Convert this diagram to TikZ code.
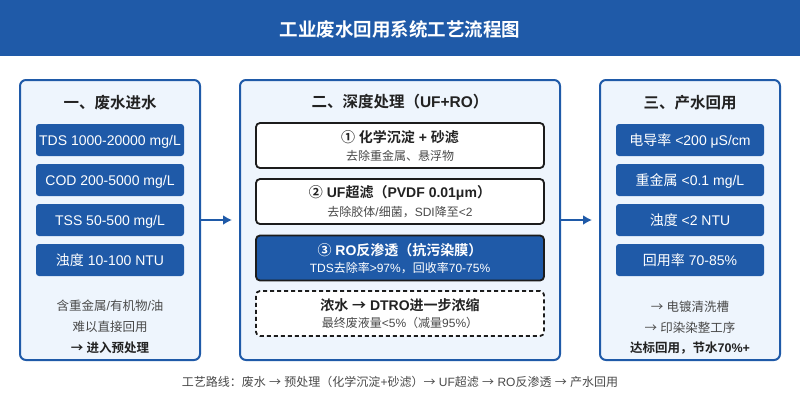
\documentclass[tikz,border=0pt]{standalone}
\usepackage{fontspec}
\setmainfont{Liberation Sans}
\newfontfamily\cjkfam{Noto Sans CJK SC}[BoldFont={Noto Sans CJK SC Bold}]
\XeTeXinterchartokenstate=1
\newXeTeXintercharclass\cjkclass
\makeatletter
\newcount\cjk@cnt
\def\cjk@range#1#2{\cjk@cnt=#1\relax
  \loop\XeTeXcharclass\cjk@cnt=\cjkclass\advance\cjk@cnt by 1\relax
  \ifnum\cjk@cnt<#2\relax\repeat}
\cjk@range{"4E00}{"A000}
\cjk@range{"3000}{"3040}
\cjk@range{"FF00}{"FF60}
\cjk@range{"2460}{"2500}
\cjk@range{"2190}{"2194}
\makeatother
\XeTeXinterchartoks 0 \cjkclass = {\begingroup\cjkfam}
\XeTeXinterchartoks 4095 \cjkclass = {\begingroup\cjkfam}
\XeTeXinterchartoks \cjkclass 0 = {\endgroup}
\XeTeXinterchartoks \cjkclass 4095 = {\endgroup}
\definecolor{mainblue}{HTML}{1F5AA8}
\definecolor{panelfill}{HTML}{EEF5FD}
\definecolor{darktxt}{HTML}{222222}
\definecolor{subtxt}{HTML}{4A4A4A}
\definecolor{boxline}{HTML}{1C1C1C}
\usetikzlibrary{arrows.meta}
\tikzset{
  panel/.style={draw=mainblue, fill=panelfill, line width=2pt, rounded corners=6pt},
  bluebox/.style={fill=mainblue, rounded corners=3pt, minimum width=148pt, minimum height=32pt, text=white, font=\fontsize{14}{16}\selectfont, inner sep=0pt, text height=11pt, text depth=1pt},
  stepbox/.style={draw=boxline, fill=white, line width=1.8pt, rounded corners=4pt, minimum width=288pt, minimum height=45pt, inner sep=0pt},
  headtxt/.style={text=darktxt, font=\bfseries\fontsize{15.5}{18}\selectfont},
  steptitle/.style={text=darktxt, font=\bfseries\fontsize{14}{16}\selectfont},
  stepsub/.style={text=subtxt, font=\fontsize{12}{14}\selectfont},
  notetxt/.style={text=subtxt, font=\fontsize{12.5}{14}\selectfont},
  flow/.style={draw=mainblue, line width=2.2pt, -{Latex[length=9pt,width=10pt]}},
}
\begin{document}
\begin{tikzpicture}[x=1pt,y=-1pt]
\useasboundingbox (0,0) rectangle (800,400);
\fill[white] (0,0) rectangle (800,400);
% title bar
\fill[mainblue] (0,0) rectangle (800,56);
\node[text=white, font=\bfseries\fontsize{18.5}{20}\selectfont] (title) at (400,29) {工业废水回用系统工艺流程图};
% panels
\node[panel, minimum width=180pt, minimum height=280pt] (p1) at (110,220) {};
\node[panel, minimum width=320pt, minimum height=280pt] (p2) at (400,220) {};
\node[panel, minimum width=180pt, minimum height=280pt] (p3) at (690,220) {};
% left panel
\node[headtxt] (h1) at (110,103) {一、废水进水};
\node[bluebox] (a1) at (110,140) {TDS 1000-20000 mg/L};
\node[bluebox] (a2) at (110,180) {COD 200-5000 mg/L};
\node[bluebox] (a3) at (110,220) {TSS 50-500 mg/L};
\node[bluebox] (a4) at (110,260) {浊度 10-100 NTU};
\node[notetxt] (n1) at (110,306) {含重金属/有机物/油};
\node[notetxt] (n2) at (110,327) {难以直接回用};
\node[text=darktxt, font=\bfseries\fontsize{12.5}{14}\selectfont] (n3) at (110,348) {→ 进入预处理};
% middle panel
\node[headtxt] (h2) at (400,102) {二、深度处理（UF+RO）};
\node[stepbox] (s1) at (400,145.5) {};
\node[steptitle] (s1t) at (400,137) {① 化学沉淀 + 砂滤};
\node[stepsub] (s1s) at (400,156) {去除重金属、悬浮物};
\node[stepbox] (s2) at (400,201.5) {};
\node[steptitle] (s2t) at (400,193) {② UF超滤（PVDF 0.01μm）};
\node[stepsub] (s2s) at (400,212) {去除胶体/细菌，SDI降至<2};
\node[stepbox, fill=mainblue] (s3) at (400,258) {};
\node[steptitle, text=white] (s3t) at (400,250) {③ RO反渗透（抗污染膜）};
\node[stepsub, text=white] (s3s) at (400,268) {TDS去除率>97\%，回收率70-75\%};
\node[stepbox, dashed, dash pattern=on 4pt off 3pt] (s4) at (400,313.5) {};
\node[steptitle] (s4t) at (400,305) {浓水 → DTRO进一步浓缩};
\node[stepsub] (s4s) at (400,323) {最终废液量<5\%（减量95\%）};
% right panel
\node[headtxt] (h3) at (690,103) {三、产水回用};
\node[bluebox] (b1) at (690,140) {电导率 <200 μS/cm};
\node[bluebox] (b2) at (690,180) {重金属 <0.1 mg/L};
\node[bluebox] (b3) at (690,220) {浊度 <2 NTU};
\node[bluebox] (b4) at (690,260) {回用率 70-85\%};
\node[notetxt] (m1) at (690,307) {→ 电镀清洗槽};
\node[notetxt] (m2) at (690,328) {→ 印染染整工序};
\node[text=darktxt, font=\bfseries\fontsize{12.5}{14}\selectfont] (m3) at (690,348) {达标回用，节水70\%+};
% arrows
\draw[flow] (p1.east) -- ([xshift=-7pt]p2.west);
\draw[flow] (p2.east) -- ([xshift=-7pt]p3.west);
% footer
\node[text=subtxt, font=\fontsize{12}{14}\selectfont] (foot) at (400,382) {工艺路线：废水 → 预处理（化学沉淀+砂滤）→ UF超滤 → RO反渗透 → 产水回用};
\end{tikzpicture}
\end{document}
